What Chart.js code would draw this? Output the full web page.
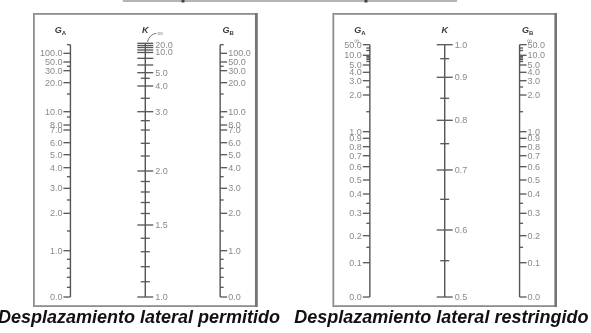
<!DOCTYPE html>
<html><head><meta charset="utf-8">
<script src="https://cdn.jsdelivr.net/npm/chart.js@4.4.1/dist/chart.umd.min.js"></script>
<style>html,body{margin:0;padding:0;background:#fff;overflow:hidden}</style>
</head><body>
<canvas id="c" width="591" height="333"></canvas>
<script>
// ---- Data: nomograph scales (value, position along axis in % of axis height, label) ----
const panelCaptions = ['Desplazamiento lateral permitido', 'Desplazamiento lateral restringido'];

// Sway permitted: G scale (used for G_A and G_B)
const gSwayValues = [0,0.2,0.4,0.6,0.8,1,1.5,2,2.5,3,3.5,4,5,6,7,8,9,10,15,20,30,40,50,100,Infinity];
const gSwayPos    = [0,3.84,7.81,11.38,14.94,18.35,26.16,33.17,38.45,43.08,47.68,51.25,56.40,61.16,66.19,68.17,71.34,73.44,80.46,84.94,89.69,91.44,93.14,96.59,100];
const gSwayLabels = ['0.0','','','','','1.0','','2.0','','3.0','','4.0','5.0','6.0','7.0','8.0','','10.0','','20.0','30.0','','50.0','100.0',''];

// Sway permitted: K scale
const kSwayValues = [1,1.1,1.2,1.3,1.4,1.5,1.6,1.7,1.8,1.9,2,2.2,2.4,2.6,2.8,3,3.5,4,4.5,5,6,8,10,12,15,20,Infinity];
const kSwayPos    = [0,6.06,12.01,17.95,23.27,28.54,33.10,37.45,41.62,45.78,49.94,55.89,60.92,66.19,69.88,73.44,78.76,83.63,86.68,88.90,91.95,94.61,96.91,97.90,98.89,99.68,100.55];
const kSwayLabels = ['1.0','','','','','1.5','','','','','2.0','','','','','3.0','','4.0','','5.0','','','10.0','','','20.0',''];

// Sway restrained: G scale
const gBraceValues = [0,0.1,0.15,0.2,0.25,0.3,0.35,0.4,0.5,0.6,0.7,0.8,0.9,1,1.5,2,2.5,3,4,5,6,7,8,9,10,20,30,50];
const gBracePos    = [0,13.59,19.70,24.30,29.21,33.17,37.14,40.82,46.37,51.65,56.00,59.57,62.90,65.52,73.44,80.06,83.23,85.73,89.06,91.95,93.34,94.13,94.73,95.24,95.80,97.70,98.69,100];
const gBraceLabels = ['0.0','0.1','','0.2','','0.3','','0.4','0.5','0.6','0.7','0.8','0.9','1.0','','2.0','','3.0','4.0','5.0','','','','','10.0','','','50.0'];

// Sway restrained: K scale
const kBraceValues = [0.5,0.55,0.6,0.65,0.7,0.75,0.8,0.85,0.9,0.95,1];
const kBracePos    = [0,14.39,26.56,38.72,50.34,60.76,70.04,78.76,87.08,94.45,100];
const kBraceLabels = ['0.5','','0.6','','0.7','','0.8','','0.9','','1.0'];

// Axis columns (x index) and header names
const axisColumns = [0,1,2,4,5,6];
const axisHeaders = [['G','A'],['K',''],['G','B'],['G','A'],['K',''],['G','B']];
const axisSides   = ['left','both','right','left','both','right'];

const AXIS = '#555555', LABEL = '#8a8a8a';
const FONT = '"Liberation Sans", Arial, sans-serif';

function mk(col, vals, pos, labels, side, head, inf) {
  return {
    data: pos.map((p) => ({x: col, y: p})),
    nomoValues: vals, nomoLabels: labels, nomoSide: side, nomoHead: head, nomoInf: inf,
    borderColor: AXIS, borderWidth: 1.4, pointRadius: 0, showLine: true, clip: false
  };
}

const datasets = [
  mk(axisColumns[0], gSwayValues, gSwayPos, gSwayLabels, axisSides[0], axisHeaders[0], false),
  mk(axisColumns[1], kSwayValues, kSwayPos, kSwayLabels, axisSides[1], axisHeaders[1], 'lead'),
  mk(axisColumns[2], gSwayValues, gSwayPos, gSwayLabels, axisSides[2], axisHeaders[2], false),
  mk(axisColumns[3], gBraceValues, gBracePos, gBraceLabels, axisSides[3], axisHeaders[3], 'tilde'),
  mk(axisColumns[4], kBraceValues, kBracePos, kBraceLabels, axisSides[4], axisHeaders[4], false),
  mk(axisColumns[5], gBraceValues, gBracePos, gBraceLabels, axisSides[5], axisHeaders[5], 'tilde')
];

const nomoPlugin = {
  id: 'nomo',
  beforeDatasetsDraw(chart) {
    const ctx = chart.ctx, xs = chart.scales.x, ys = chart.scales.y, ca = chart.chartArea;
    ctx.save();
    // panel frames
    [[-0.5, 2.5], [3.5, 6.5]].forEach(([a, b]) => {
      const x0 = xs.getPixelForValue(a), x1 = xs.getPixelForValue(b);
      ctx.strokeStyle = '#8e8e8e'; ctx.lineWidth = 1.8;
      ctx.strokeRect(x0 + 0.9, ca.top + 0.9, x1 - x0 - 1.8, ca.bottom - ca.top - 1.8);
      ctx.strokeStyle = '#747474'; ctx.lineWidth = 2.6;
      ctx.beginPath(); ctx.moveTo(x1 - 1.3, ca.top); ctx.lineTo(x1 - 1.3, ca.bottom); ctx.stroke();
    });
    // cut-off title underline at the very top
    const ty = ys.getPixelForValue(117.3);
    ctx.strokeStyle = '#b4b4b4'; ctx.lineWidth = 2;
    ctx.beginPath(); ctx.moveTo(xs.getPixelForValue(0.70), ty); ctx.lineTo(xs.getPixelForValue(5.165), ty); ctx.stroke();
    ctx.fillStyle = '#444';
    [1.504, 3.948].forEach(v => { ctx.fillRect(xs.getPixelForValue(v) - 1.5, 0, 3, 2.5); });
    // captions
    ctx.fillStyle = '#111';
    ctx.font = 'italic bold 18px ' + FONT;
    ctx.textAlign = 'center'; ctx.textBaseline = 'alphabetic';
    ctx.fillText(panelCaptions[0], xs.getPixelForValue(0.915), ys.getPixelForValue(-10.4));
    ctx.fillText(panelCaptions[1], xs.getPixelForValue(4.955), ys.getPixelForValue(-10.4));
    ctx.restore();
  },
  afterDatasetsDraw(chart) {
    const ctx = chart.ctx, ys = chart.scales.y;
    ctx.save();
    chart.data.datasets.forEach((ds, di) => {
      const meta = chart.getDatasetMeta(di);
      const pts = meta.data;
      const isK = ds.nomoSide === 'both';
      ctx.strokeStyle = AXIS; ctx.lineWidth = 1.3;
      pts.forEach((pt, i) => {
        const lab = ds.nomoLabels[i];
        const v = ds.nomoValues[i];
        const major = lab !== '';
        const x = pt.x, y = pt.y;
        ctx.beginPath();
        if (isK) {
          const h = (major || v >= 6) ? 8 : 4.5;
          ctx.moveTo(x - h, y); ctx.lineTo(x + h, y);
        } else {
          const L = major ? 7 : 3.5;
          const d = ds.nomoSide === 'left' ? -1 : 1;
          ctx.moveTo(x, y); ctx.lineTo(x + d * L, y);
        }
        ctx.stroke();
        if (major) {
          ctx.fillStyle = LABEL;
          ctx.font = '9px ' + FONT;
          ctx.textBaseline = 'middle';
          if (isK) { ctx.textAlign = 'left'; ctx.fillText(lab, x + 10, y + 0.5); }
          else if (ds.nomoSide === 'left') { ctx.textAlign = 'right'; ctx.fillText(lab, x - 8, y + 0.5); }
          else { ctx.textAlign = 'left'; ctx.fillText(lab, x + 8, y + 0.5); }
        }
      });
      // infinity marks
      const top = pts[pts.length - 1];
      ctx.fillStyle = LABEL; ctx.strokeStyle = '#777'; ctx.lineWidth = 1;
      if (ds.nomoInf === 'lead') {
        ctx.beginPath();
        ctx.moveTo(top.x + 2, top.y - 1);
        ctx.quadraticCurveTo(top.x + 4, top.y - 9, top.x + 11, top.y - 10);
        ctx.stroke();
        ctx.font = '8px ' + FONT; ctx.textAlign = 'left'; ctx.textBaseline = 'middle';
        ctx.fillText('\u221E', top.x + 12, top.y - 10);
      } else if (ds.nomoInf === 'tilde') {
        ctx.font = '7px ' + FONT; ctx.textBaseline = 'middle'; ctx.textAlign = 'center';
        const ix = ds.nomoSide === 'left' ? top.x - 13 : top.x + 10;
        ctx.fillText('\u221E', ix, top.y - 3.5);
      }
      // header
      const hx = top.x + (ds.nomoSide === 'left' ? -10 : ds.nomoSide === 'right' ? 8 : 0);
      const hy = ys.getPixelForValue(105.6);
      const [main, sub] = ds.nomoHead;
      ctx.fillStyle = '#3a3a3a';
      ctx.font = 'italic bold 9px ' + FONT;
      ctx.textBaseline = 'middle';
      const wMain = ctx.measureText(main).width;
      ctx.font = 'bold 6px ' + FONT;
      const wSub = sub ? ctx.measureText(sub).width : 0;
      const start = hx - (wMain + wSub) / 2;
      ctx.font = 'italic bold 9px ' + FONT; ctx.textAlign = 'left';
      ctx.fillText(main, start, hy);
      if (sub) { ctx.font = 'bold 6px ' + FONT; ctx.fillText(sub, start + wMain, hy + 2.5); }
    });
    ctx.restore();
  }
};

new Chart(document.getElementById('c'), {
  type: 'line',
  data: { datasets },
  options: {
    responsive: false, animation: false, events: [],
    layout: { padding: { left: 33, right: 34, top: 13, bottom: 26 } },
    plugins: { legend: { display: false }, tooltip: { enabled: false }, title: { display: false } },
    scales: {
      x: { type: 'linear', min: -0.5, max: 6.5, display: false },
      y: { type: 'linear', min: -3.96, max: 112.56, display: false }
    }
  },
  plugins: [nomoPlugin]
});
</script>
</body></html>
